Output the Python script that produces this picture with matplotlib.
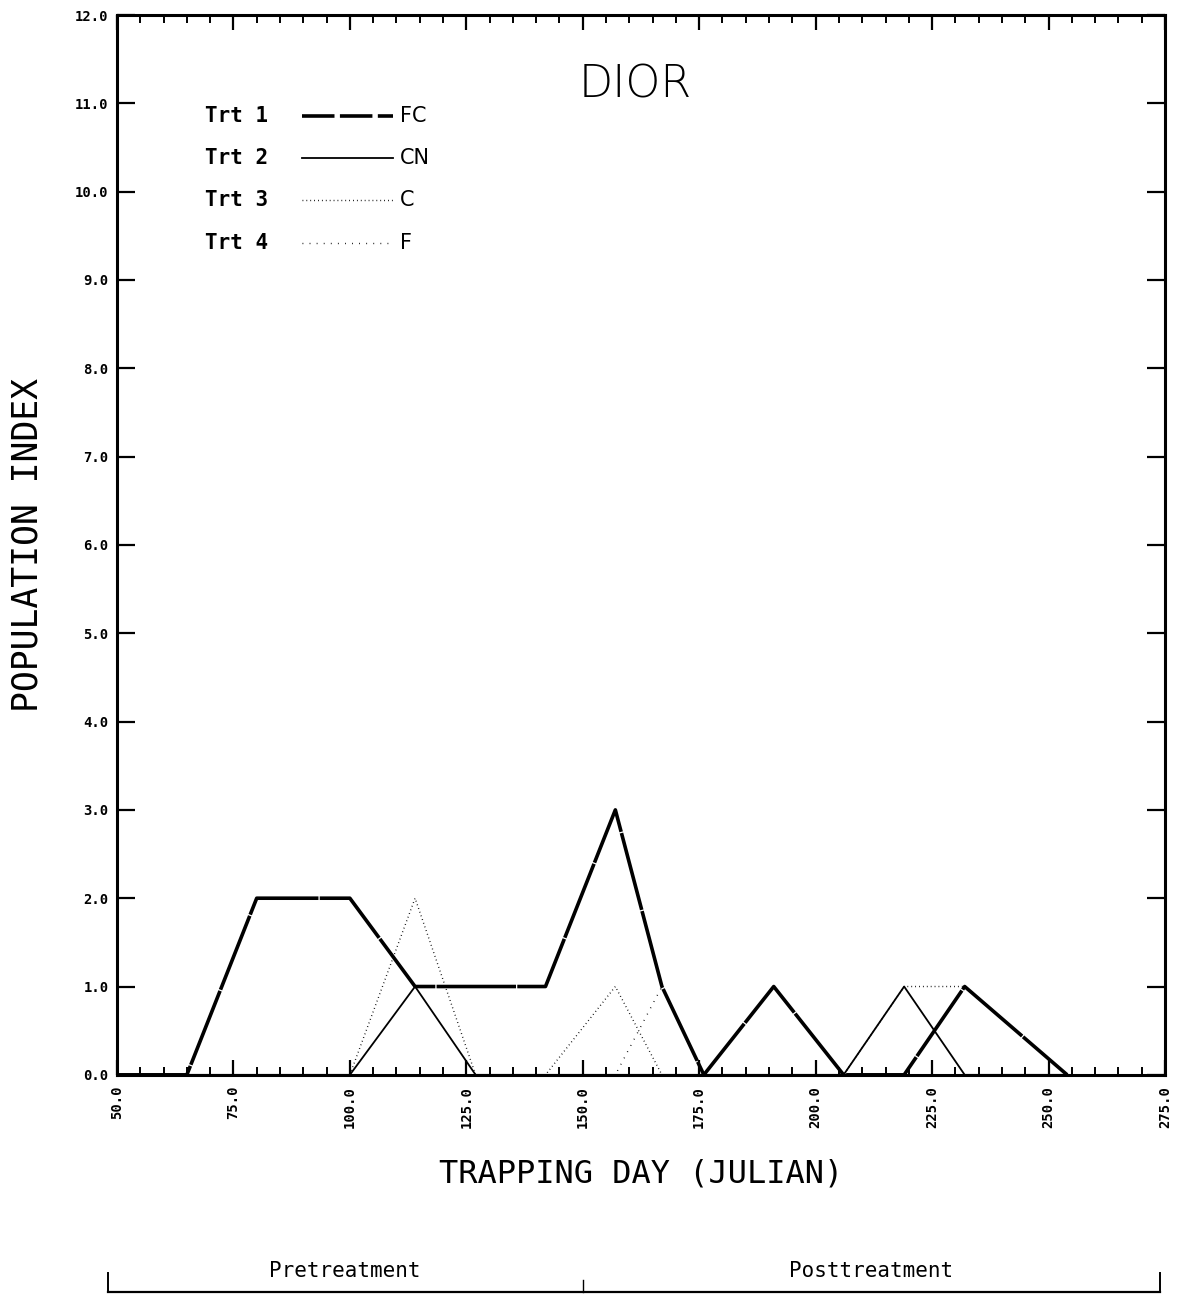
import matplotlib

matplotlib.use("Agg")
import matplotlib.pyplot as plt
import matplotlib.transforms as mtransforms
from matplotlib.lines import Line2D
from matplotlib.ticker import FormatStrFormatter, MultipleLocator

# sampling days (julian) and population index per treatment
trap_days = [50, 65, 80, 100, 114, 127, 142, 157, 167, 176, 191, 206, 219, 232, 254]
trt1_fc = [0, 0, 2, 2, 1, 1, 1, 3, 1, 0, 1, 0, 0, 1, 0]
trt2_cn = [0, 0, 0, 0, 1, 0, 0, 0, 0, 0, 0, 0, 1, 0, 0]
trt3_c = [0, 0, 0, 0, 2, 0, 0, 1, 0, 0, 0, 0, 1, 1, 0]
trt4_f = [0, 0, 0, 0, 0, 0, 0, 0, 1, 0, 0, 0, 0, 0, 0]

trt_names = ["Trt 1", "Trt 2", "Trt 3", "Trt 4"]
trt_codes = ["FC", "CN", "C", "F"]
period_names = ["Pretreatment", "Posttreatment"]
period_bounds = [48, 150, 274]

MONO = "DejaVu Sans Mono"

styles = [
    dict(color="black", lw=2.6, dashes=(22, 0.35), solid_capstyle="butt"),
    dict(color="black", lw=1.3, linestyle="-"),
    dict(color="black", lw=1.0, dashes=(0.6, 2.2)),
    dict(color="black", lw=1.0, dashes=(0.6, 4.5)),
]

fig = plt.figure(figsize=(12.01, 13.06), dpi=100)
ax = fig.add_axes([0.0974, 0.177, 0.8726, 0.8115])

for values, style in zip([trt1_fc, trt2_cn, trt3_c, trt4_f], styles):
    ax.plot(trap_days, values, **style)

ax.set_xlim(50, 275)
ax.set_ylim(0, 12)
ax.xaxis.set_major_locator(MultipleLocator(25))
ax.xaxis.set_minor_locator(MultipleLocator(5))
ax.yaxis.set_major_locator(MultipleLocator(1))
ax.xaxis.set_major_formatter(FormatStrFormatter("%.1f"))
ax.yaxis.set_major_formatter(FormatStrFormatter("%.1f"))
ax.tick_params(axis="x", which="major", direction="in", length=11, width=1.6,
               top=True, pad=8)
ax.tick_params(axis="x", which="minor", direction="in", length=6, width=1.4, top=True)
ax.tick_params(axis="y", which="major", direction="in", length=13, width=1.6,
               right=True, pad=6)
for label in ax.get_xticklabels():
    label.set_rotation(90)
    label.set_fontfamily(MONO)
    label.set_fontweight("bold")
    label.set_fontsize(10)
for label in ax.get_yticklabels():
    label.set_fontfamily(MONO)
    label.set_fontweight("bold")
    label.set_fontsize(10)
for spine in ax.spines.values():
    spine.set_linewidth(2.2)

ax.set_xlabel("TRAPPING DAY (JULIAN)", fontfamily=MONO, fontsize=23, labelpad=22)
ax.set_ylabel("POPULATION INDEX", fontfamily=MONO, fontsize=25, labelpad=22)

ax.text(0.495, 0.934, "DIOR", transform=ax.transAxes, ha="center", va="center",
        fontsize=32, fontfamily="DejaVu Sans", fontweight="light")

# hand-made key like the plotter one
row_y = [0.905, 0.865, 0.825, 0.785]
legend_styles = [dict(styles[0], dashes=(9, 1.5))] + styles[1:]
for y, name, code, style in zip(row_y, trt_names, trt_codes, legend_styles):
    ax.text(0.084, y, name, transform=ax.transAxes, ha="left", va="center",
            fontsize=15, fontfamily=MONO, fontweight="bold")
    ax.add_line(Line2D([0.177, 0.263], [y, y], transform=ax.transAxes, **style))
    ax.text(0.270, y, code, transform=ax.transAxes, ha="left", va="center",
            fontsize=15, fontfamily="DejaVu Sans")

# pre/post treatment bracket under the chart
trans = mtransforms.blended_transform_factory(ax.transData, fig.transFigure)
line_y = 0.011
fig.add_artist(Line2D([period_bounds[0], period_bounds[-1]], [line_y, line_y],
                      transform=trans, color="black", lw=1.6))
for day, height, lw in [(period_bounds[0], 0.014, 1.4),
                        (period_bounds[-1], 0.014, 1.4),
                        (period_bounds[1], 0.009, 1.0)]:
    fig.add_artist(Line2D([day, day], [line_y, line_y + height],
                          transform=trans, color="black", lw=lw))
for name, lo, hi in zip(period_names, period_bounds[:-1], period_bounds[1:]):
    t = fig.text((lo + hi) / 2, line_y + 0.016, name, ha="center", va="center",
                 fontsize=15, fontfamily=MONO)
    t.set_transform(trans)

fig.savefig("out.png", dpi=100)
